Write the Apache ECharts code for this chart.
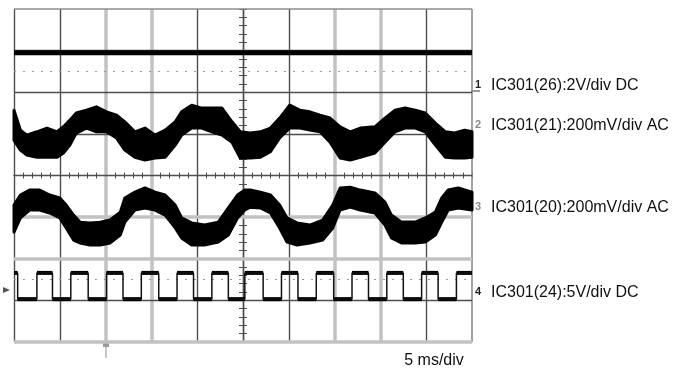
<!DOCTYPE html>
<html><head><meta charset="utf-8">
<script src="https://cdn.jsdelivr.net/npm/echarts@6/dist/echarts.min.js"></script>
<style>html,body{margin:0;padding:0;background:#fff}#c{width:684px;height:374px}</style>
</head><body><div id="c"></div>
<script>
// ---- data (time in ms, screen centre = 0; level in divisions, centre = 0) ----
const gridTimes  = [-25, -20, -15, -10, -5, 0, 5, 10, 15, 20, 25];
const gridLevels = [-4, -3, -2, -1, 0, 1, 2, 3, 4];
const cursorLevels = [2.5, -2.5];

const ch1Time  = [-25, 25];
const ch1Level = [2.95, 2.95];

const ch2Time  = [-25, -24.3, -23.6, -22.5, -21.4, -20.3, -19.6, -18.9, -18.2, -17.1, -16.0, -14.9, -13.8, -12.9, -11.8, -10.7, -9.6, -8.5, -7.4, -6.7, -5.6, -4.5, -3.4, -2.3, -1.2, -0.3, 0.8, 1.9, 3.0, 4.0, 5.1, 6.2, 7.3, 8.4, 9.5, 10.6, 11.7, 12.8, 14.4, 15.5, 16.6, 17.7, 18.8, 19.9, 21.0, 22.1, 23.1, 24.2, 25];
const ch2Upper = [1.57, 1.09, 0.97, 1.05, 1.14, 1.05, 1.17, 1.33, 1.50, 1.57, 1.65, 1.53, 1.45, 1.29, 1.05, 1.14, 0.97, 1.09, 1.29, 1.53, 1.69, 1.62, 1.62, 1.62, 1.29, 1.05, 1.02, 1.05, 1.14, 1.38, 1.69, 1.57, 1.53, 1.45, 1.38, 1.17, 1.05, 1.14, 1.17, 1.38, 1.57, 1.62, 1.57, 1.50, 1.26, 1.05, 1.02, 1.09, 1.05];
const ch2Lower = [0.85, 0.61, 0.49, 0.44, 0.44, 0.44, 0.54, 0.73, 1.02, 1.14, 1.05, 1.05, 0.90, 0.61, 0.44, 0.37, 0.42, 0.44, 0.73, 0.97, 1.14, 1.14, 1.05, 0.97, 0.80, 0.42, 0.42, 0.44, 0.57, 0.90, 1.14, 1.14, 1.09, 1.05, 0.80, 0.42, 0.37, 0.44, 0.54, 0.80, 1.05, 1.14, 1.14, 1.05, 0.73, 0.44, 0.42, 0.42, 0.44];

const ch3Time  = [-25, -24.3, -23.3, -22.2, -21.1, -20.0, -19.3, -18.5, -17.8, -16.7, -15.6, -14.5, -13.4, -12.9, -11.8, -10.7, -9.6, -8.5, -7.4, -6.7, -5.6, -4.2, -2.7, -1.6, -0.6, 0.2, 0.8, 1.9, 3.0, 4.0, 4.8, 5.9, 7.3, 8.7, 9.8, 10.6, 11.7, 12.8, 14.4, 15.5, 16.2, 17.3, 18.8, 19.9, 21.0, 21.7, 22.4, 23.5, 25];
const ch3Upper = [-0.71, -0.47, -0.35, -0.35, -0.47, -0.54, -0.71, -0.95, -1.12, -1.14, -1.12, -1.07, -0.88, -0.54, -0.40, -0.30, -0.40, -0.47, -0.71, -1.02, -1.14, -1.19, -1.12, -0.78, -0.47, -0.35, -0.35, -0.40, -0.47, -0.71, -1.02, -1.14, -1.19, -1.07, -0.71, -0.30, -0.28, -0.35, -0.42, -0.64, -0.95, -1.12, -1.12, -1.02, -0.88, -0.54, -0.35, -0.30, -0.40];
const ch3Lower = [-1.36, -1.02, -0.83, -0.83, -0.90, -1.02, -1.26, -1.55, -1.62, -1.67, -1.67, -1.62, -1.43, -1.12, -0.83, -0.78, -0.83, -0.95, -1.26, -1.50, -1.67, -1.67, -1.60, -1.43, -1.02, -0.83, -0.76, -0.78, -0.90, -1.26, -1.60, -1.67, -1.62, -1.55, -1.26, -0.83, -0.76, -0.83, -0.90, -1.19, -1.50, -1.62, -1.62, -1.60, -1.43, -1.12, -0.83, -0.78, -0.83];

// square wave: level at start is high, then toggles at each edge time
const ch4Edges = [-24.6, -22.5, -20.8, -18.8, -16.9, -14.9, -13.1, -11.1, -9.2, -7.2, -5.4, -3.4, -1.6, 0.2, 2.2, 4.2, 6.0, 8.0, 9.9, 11.9, 13.7, 15.7, 17.5, 19.5, 21.3, 23.3];
const ch4High = -2.34;
const ch4Low  = -2.97;

const channelNames = ['1', '2', '3', '4'];
const channelLabels = ['IC301(26):2V/div DC', 'IC301(21):200mV/div AC', 'IC301(20):200mV/div AC', 'IC301(24):5V/div DC'];
const timebaseLabel = '5 ms/div';

// ---- styles ----
const DARK = {color: '#4e4e4e', width: 1.4, type: 'solid'};
const WIDE = {color: '#c2c2c2', width: 3.5, type: 'solid'};
const EDGE = {color: '#8c8c8c', width: 1.6, type: 'solid'};
const wideTimes = [-15, -10, 10, 15];
const wideLevels = [-4, -2, -1];
const FONT = '"Liberation Sans", Arial, Helvetica, sans-serif';
const labelPixY = [86, 126, 207.5, 292.5];

// ---- build ----
const ch1Data = ch1Time.map((t, i) => [t, ch1Level[i]]);
const sqData = [[gridTimes[0], ch4High]];
const plateaus = [];
let cur = ch4High, prev = gridTimes[0];
for (const e of ch4Edges) {
  sqData.push([e, cur]);
  plateaus.push([prev, e, cur]);
  cur = (cur === ch4High) ? ch4Low : ch4High;
  sqData.push([e, cur]);
  prev = e;
}
sqData.push([gridTimes[gridTimes.length - 1], cur]);
plateaus.push([prev, gridTimes[gridTimes.length - 1], cur]);

function band(name, time, upper, lower) {
  return {
    type: 'custom', name: name, z: 5, silent: true, data: [[0, 0]],
    renderItem: function (params, api) {
      const pts = [];
      for (let i = 0; i < time.length; i++) pts.push(api.coord([time[i], upper[i]]));
      for (let i = time.length - 1; i >= 0; i--) pts.push(api.coord([time[i], lower[i]]));
      return {type: 'polygon', shape: {points: pts},
        style: {fill: '#000', stroke: '#000', lineWidth: 3, lineJoin: 'round'}};
    }
  };
}

const gridMarks = [];
gridTimes.forEach(t => gridMarks.push({xAxis: t, lineStyle: wideTimes.includes(t) ? WIDE : (t === 25 ? EDGE : DARK)}));
gridLevels.forEach(v => gridMarks.push({yAxis: v, lineStyle: wideLevels.includes(v) ? WIDE : (v === 4 ? EDGE : DARK)}));
cursorLevels.forEach(v => gridMarks.push({yAxis: v, lineStyle: {color: '#9a9a9a', width: 1, type: [2, 7]}}));

function xAx(pos, idx) {
  return {type: 'value', min: -25, max: 25, interval: 5, position: pos,
    axisLine: {show: true, onZero: true, onZeroAxisIndex: idx, lineStyle: {color: '#4e4e4e', width: 1.2}},
    axisTick: {show: true, inside: false, length: 3, lineStyle: {color: '#4e4e4e', width: 1}},
    minorTick: {show: true, splitNumber: 5, length: 3, lineStyle: {color: '#4e4e4e', width: 1}},
    axisLabel: {show: false}, splitLine: {show: false}, minorSplitLine: {show: false}};
}
function yAx(pos, idx) {
  return {type: 'value', min: -4, max: 4, interval: 1, position: pos,
    axisLine: {show: true, onZero: true, onZeroAxisIndex: idx, lineStyle: {color: '#4e4e4e', width: 1.2}},
    axisTick: {show: true, inside: false, length: 4, lineStyle: {color: '#4e4e4e', width: 1}},
    minorTick: {show: true, splitNumber: 5, length: 4, lineStyle: {color: '#4e4e4e', width: 1}},
    axisLabel: {show: false}, splitLine: {show: false}, minorSplitLine: {show: false}};
}

const graphics = [];
channelLabels.forEach((s, i) => {
  graphics.push({type: 'text', x: 491, y: labelPixY[i], silent: true,
    style: {text: s, font: '16px ' + FONT, fill: '#111', verticalAlign: 'middle', align: 'left'}});
  graphics.push({type: 'text', x: 478, y: labelPixY[i] - 1, silent: true,
    style: {text: channelNames[i], font: 'bold 11px ' + FONT, fill: (i === 1 || i === 2) ? '#8a8a8a' : '#222', verticalAlign: 'middle', align: 'center'}});
});
graphics.push({type: 'line', silent: true, shape: {x1: 471, y1: 91, x2: 480, y2: 91}, style: {stroke: '#333', lineWidth: 1}});
graphics.push({type: 'text', x: 434, y: 361, silent: true,
  style: {text: timebaseLabel, font: '16px ' + FONT, fill: '#111', verticalAlign: 'middle', align: 'center'}});
graphics.push({type: 'polygon', silent: true, shape: {points: [[3, 287], [10, 290], [3, 293]]}, style: {fill: '#555'}});
graphics.push({type: 'line', silent: true, shape: {x1: 106, y1: 343, x2: 106, y2: 358}, style: {stroke: '#b5b5b5', lineWidth: 1.5}});
graphics.push({type: 'rect', silent: true, shape: {x: 103, y: 342, width: 6, height: 5}, style: {fill: '#9a9a9a'}});

const chart = echarts.init(document.getElementById('c'), null, {renderer: 'canvas'});
chart.setOption({
  backgroundColor: '#fff',
  animation: false,
  grid: {left: 14, top: 9, width: 458, height: 333, outerBoundsMode: 'none', containLabel: false},
  xAxis: [xAx('bottom', 0), xAx('top', 1)],
  yAxis: [yAx('left', 0), yAx('right', 1)],
  series: [
    {type: 'line', name: 'graticule', z: 1, silent: true, data: [[0, 0]], symbol: 'none',
      lineStyle: {opacity: 0},
      markLine: {silent: true, symbol: ['none', 'none'], label: {show: false}, animation: false, data: gridMarks}},
    {type: 'line', name: 'CH1', z: 6, data: ch1Data, symbol: 'none', lineStyle: {color: '#000', width: 5}},
    band('CH2', ch2Time, ch2Upper, ch2Lower),
    band('CH3', ch3Time, ch3Upper, ch3Lower),
    {type: 'line', name: 'CH4', z: 6, data: sqData, symbol: 'none', lineStyle: {color: '#111', width: 1.5}},
    {type: 'custom', name: 'CH4 levels', z: 6, silent: true, data: plateaus, encode: {x: [0, 1], y: 2},
      renderItem: function (params, api) {
        const a = api.coord([api.value(0), api.value(2)]);
        const b = api.coord([api.value(1), api.value(2)]);
        return {type: 'rect', shape: {x: a[0], y: a[1] - 2, width: b[0] - a[0], height: 4}, style: {fill: '#000'}};
      }}
  ],
  graphic: graphics
});
</script>
</body></html>
